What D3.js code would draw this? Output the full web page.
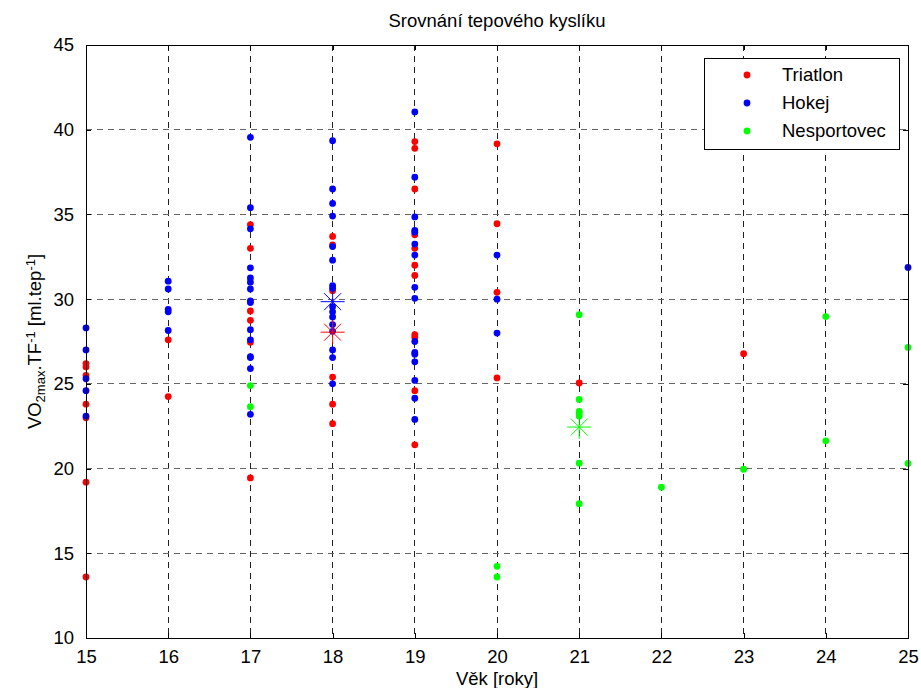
<!DOCTYPE html>
<html>
<head>
<meta charset="utf-8">
<script src="https://cdn.jsdelivr.net/npm/d3@7"></script>
<style>
  body { margin: 0; background: #fff; }
  svg text { font-family: "Liberation Sans", Arial, sans-serif; fill: #000; }
</style>
</head>
<body>
<div id="chart"></div>
<script>
// [age, VO2max.TF-1] per group
var triatlon = [
  [15, 26.2], [15, 26.0], [15, 25.5], [15, 23.8], [15, 23.0], [15, 19.2], [15, 13.6],
  [16, 27.6], [16, 24.25],
  [17, 34.4], [17, 33.0], [17, 29.3], [17, 28.75], [17, 27.45], [17, 19.45],
  [18, 33.7], [18, 33.2], [18, 30.5], [18, 25.4], [18, 23.8], [18, 22.65],
  [19, 39.3], [19, 38.9], [19, 36.5], [19, 33.8], [19, 33.0], [19, 32.0], [19, 31.4],
  [19, 27.9], [19, 27.75], [19, 24.6], [19, 21.4],
  [20, 39.17], [20, 34.45], [20, 30.4], [20, 25.35],
  [21, 25.05],
  [23, 26.78]
];

var hokej = [
  [15, 28.3], [15, 27.0], [15, 25.3], [15, 24.6], [15, 23.1],
  [16, 31.06], [16, 30.6], [16, 29.4], [16, 29.25], [16, 28.15],
  [17, 39.55], [17, 35.4], [17, 34.15], [17, 31.85], [17, 31.25], [17, 31.0], [17, 30.6],
  [17, 29.9], [17, 29.8], [17, 28.2], [17, 27.6], [17, 26.6], [17, 26.55], [17, 25.9], [17, 23.2],
  [18, 39.35], [18, 36.5], [18, 35.65], [18, 34.9], [18, 33.1], [18, 32.3], [18, 30.8],
  [18, 30.65], [18, 29.55], [18, 29.25], [18, 28.95], [18, 28.5], [18, 28.1], [18, 27.0],
  [18, 26.55], [18, 25.0],
  [19, 41.05], [19, 37.2], [19, 34.85], [19, 34.05], [19, 33.95], [19, 33.25], [19, 32.6],
  [19, 30.7], [19, 30.05], [19, 27.5], [19, 26.85], [19, 26.75], [19, 26.3], [19, 25.2],
  [19, 24.15], [19, 22.9],
  [20, 32.6], [20, 30.0], [20, 28.0],
  [25, 31.87]
];

var nesportovec = [
  [17, 24.9], [17, 23.65],
  [20, 14.23], [20, 13.6],
  [21, 29.08], [21, 24.08], [21, 23.38], [21, 23.25], [21, 23.1], [21, 20.32], [21, 17.93],
  [22, 18.9],
  [23, 19.96],
  [24, 28.97], [24, 21.64],
  [25, 27.15], [25, 20.3]
];

// group means (asterisks)
var means = [
  {name: 'Triatlon', x: 18, y: 28.05},
  {name: 'Hokej', x: 18, y: 29.85},
  {name: 'Nesportovec', x: 21, y: 22.45}
];

var groupNames = ['Triatlon', 'Hokej', 'Nesportovec'];
var groupColors = ['#ff0000', '#0000ff', '#00ff00'];
var xTicks = [15, 16, 17, 18, 19, 20, 21, 22, 23, 24, 25];
var yTicks = [10, 15, 20, 25, 30, 35, 40, 45];

var width = 921, height = 688;
var mLeft = 86, mRight = 908, mTop = 45, mBottom = 638;

var x = d3.scaleLinear().domain([15, 25]).range([mLeft, mRight]);
var y = d3.scaleLinear().domain([10, 45]).range([mBottom, mTop]);
var color = d3.scaleOrdinal().domain(groupNames).range(groupColors);

var svg = d3.select('#chart').append('svg')
  .attr('width', width)
  .attr('height', height);

svg.append('rect')
  .attr('x', mLeft).attr('y', mTop)
  .attr('width', mRight - mLeft).attr('height', mBottom - mTop)
  .attr('fill', '#fff');

// grid
var grid = svg.append('g').attr('class', 'grid').attr('shape-rendering', 'crispEdges');
grid.selectAll('line.v')
  .data(xTicks.slice(1, -1))
  .enter().append('line')
  .attr('class', 'v')
  .attr('x1', d => x(d)).attr('x2', d => x(d))
  .attr('y1', mTop).attr('y2', mBottom)
  .attr('stroke', '#222').attr('stroke-dasharray', '6,5');
grid.selectAll('line.h')
  .data(yTicks.slice(1, -1))
  .enter().append('line')
  .attr('class', 'h')
  .attr('x1', mLeft).attr('x2', mRight)
  .attr('y1', d => y(d)).attr('y2', d => y(d))
  .attr('stroke', '#666').attr('stroke-dasharray', '6,5');

// axes with inward ticks on all four sides
var fontSize = '18.5px';
var xAxisB = svg.append('g')
  .attr('transform', 'translate(0,' + mBottom + ')')
  .call(d3.axisBottom(x).tickValues(xTicks).tickFormat(d3.format('d')).tickSizeInner(-5).tickSizeOuter(0).tickPadding(12));
var xAxisT = svg.append('g')
  .attr('transform', 'translate(0,' + mTop + ')')
  .call(d3.axisTop(x).tickValues(xTicks).tickFormat('').tickSizeInner(-5).tickSizeOuter(0));
var yAxisL = svg.append('g')
  .attr('transform', 'translate(' + mLeft + ',0)')
  .call(d3.axisLeft(y).tickValues(yTicks).tickFormat(d3.format('d')).tickSizeInner(-5).tickSizeOuter(0).tickPadding(12));
var yAxisR = svg.append('g')
  .attr('transform', 'translate(' + mRight + ',0)')
  .call(d3.axisRight(y).tickValues(yTicks).tickFormat('').tickSizeInner(-5).tickSizeOuter(0));

[xAxisB, xAxisT, yAxisL, yAxisR].forEach(function(a) {
  a.attr('shape-rendering', 'crispEdges');
  a.selectAll('.domain').attr('stroke', '#000');
  a.selectAll('line').attr('stroke', '#000');
  a.selectAll('text').style('font-size', fontSize).attr('fill', '#000')
    .style('font-family', '"Liberation Sans", Arial, sans-serif');
});

// data points
var dots = svg.append('g').attr('class', 'dots');
[triatlon, hokej, nesportovec].forEach(function(series, i) {
  dots.selectAll('circle.g' + i)
    .data(series)
    .enter().append('circle')
    .attr('class', 'g' + i)
    .attr('cx', d => x(d[0]))
    .attr('cy', d => y(d[1]))
    .attr('r', 3.4)
    .attr('fill', color(groupNames[i]));
});

// mean markers (asterisk)
var star = 12;
var stars = svg.append('g').attr('class', 'means');
var starGroups = stars.selectAll('g')
  .data(means)
  .enter().append('g')
  .attr('transform', d => 'translate(' + x(d.x) + ',' + y(d.y) + ')')
  .attr('stroke', d => color(d.name))
  .attr('stroke-width', 1);
[0, 45, 90, 135].forEach(function(a) {
  var r = a * Math.PI / 180;
  starGroups.append('line')
    .attr('x1', -star * Math.cos(r)).attr('y1', -star * Math.sin(r))
    .attr('x2', star * Math.cos(r)).attr('y2', star * Math.sin(r));
});

// frame on top
svg.append('rect')
  .attr('x', mLeft).attr('y', mTop)
  .attr('width', mRight - mLeft).attr('height', mBottom - mTop)
  .attr('fill', 'none').attr('stroke', '#000')
  .attr('shape-rendering', 'crispEdges');

// title and labels
svg.append('text')
  .attr('x', (mLeft + mRight) / 2).attr('y', 27)
  .attr('text-anchor', 'middle')
  .style('font-size', fontSize)
  .text('Srovnání tepového kyslíku');

svg.append('text')
  .attr('x', (mLeft + mRight) / 2).attr('y', 685)
  .attr('text-anchor', 'middle')
  .style('font-size', fontSize)
  .text('Věk [roky]');

var ylab = svg.append('text')
  .attr('transform', 'translate(41,' + ((mTop + mBottom) / 2) + ') rotate(-90)')
  .attr('text-anchor', 'middle')
  .style('font-size', fontSize);
ylab.append('tspan').text('VO');
ylab.append('tspan').attr('baseline-shift', '-30%').style('font-size', '13px').text('2max');
ylab.append('tspan').text('.TF');
ylab.append('tspan').attr('baseline-shift', '45%').style('font-size', '13px').text('-1');
ylab.append('tspan').text(' [ml.tep');
ylab.append('tspan').attr('baseline-shift', '45%').style('font-size', '13px').text('-1');
ylab.append('tspan').text(']');

// legend
var lg = svg.append('g').attr('class', 'legend');
lg.append('rect')
  .attr('x', 704).attr('y', 58)
  .attr('width', 195).attr('height', 91)
  .attr('fill', '#fff').attr('stroke', '#000')
  .attr('shape-rendering', 'crispEdges');
var items = lg.selectAll('g.item')
  .data(groupNames)
  .enter().append('g')
  .attr('class', 'item')
  .attr('transform', (d, i) => 'translate(0,' + (75 + i * 28) + ')');
items.append('circle')
  .attr('cx', 747).attr('cy', 0).attr('r', 3.4)
  .attr('fill', d => color(d));
items.append('text')
  .attr('x', 782).attr('y', 6)
  .style('font-size', fontSize)
  .text(d => d);
</script>
</body>
</html>
